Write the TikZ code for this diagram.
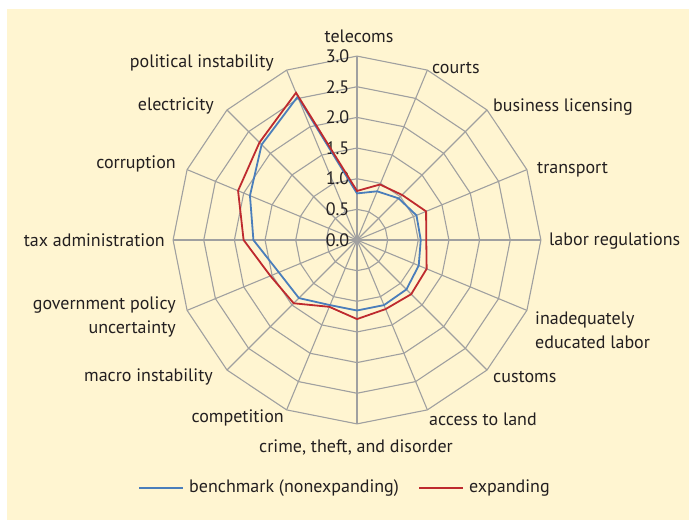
\documentclass[tikz,border=0pt]{standalone}
\usepackage{fontspec}
\setmainfont{PT Sans}
\definecolor{bg}{HTML}{FFF5D1}
\definecolor{gridc}{HTML}{A0A0A0}
\definecolor{bench}{HTML}{4A7EBB}
\definecolor{expd}{HTML}{BE2A2E}
\definecolor{txt}{HTML}{231F20}
\begin{document}
\begin{tikzpicture}[x=1pt,y=1pt,
  lbl/.style={font=\fontsize{18}{24}\selectfont, text=txt, inner sep=0pt},
  gridline/.style={draw=gridc, line width=1.1pt},
  bline/.style={draw=bench, line width=1.8pt, line join=miter},
  rline/.style={draw=expd, line width=1.8pt, line join=miter}]
\useasboundingbox (0,0) rectangle (689,520);
\fill[white] (0,0) rectangle (689,520);
\fill[bg] (7,0) rectangle (689,511);
\coordinate (c) at (357,280);
\begin{scope}[shift={(357,280)}]
  \foreach \k in {1,...,6} {
    \draw[gridline] (0:\k*30.65) \foreach \a in {1,...,15}{ -- (\a*22.5:\k*30.65)} -- cycle;
  }
  \foreach \a in {0,...,15} {
    \coordinate (s\a) at (\a*22.5:183.9);
    \draw[gridline] (0,0) -- (s\a);
  }
  \fill[gridc] (0,0) circle (3.5);
  \foreach \v [count=\i from 0] in {0.0,0.5,1.0,1.5,2.0,2.5,3.0} {
    \node[lbl, anchor=east] (t\i) at (-7.5,\i*30.65) {\v};
  }
  \foreach \v [count=\i from 0] in {0.76,0.86,0.96,1.05,1.04,1.09,1.14,1.15,1.15,1.15,1.34,1.38,1.69,1.89,2.20,2.53} {
    \coordinate (b\i) at ({90-22.5*\i}:{\v*61.3});
  }
  \foreach \v [count=\i from 0] in {0.80,0.98,1.04,1.22,1.13,1.23,1.25,1.22,1.29,1.18,1.46,1.53,1.85,2.10,2.25,2.60} {
    \coordinate (r\i) at ({90-22.5*\i}:{\v*61.3});
  }
  \draw[bline] (b0) \foreach \i in {1,...,15}{ -- (b\i)} -- cycle;
  \draw[rline] (r0) \foreach \i in {1,...,15}{ -- (r\i)} -- cycle;
\end{scope}
\node[lbl] (l0) at (359,484) {telecoms};
\node[lbl, anchor=west] (l1) at (432,452) {courts};
\node[lbl, anchor=west] (l2) at (493,413) {business licensing};
\node[lbl, anchor=west] (l3) at (537,350) {transport};
\node[lbl, anchor=west] (l4) at (549,279) {labor regulations};
\node[lbl, anchor=west, align=left] (l5) at (535,190) {inadequately\\educated labor};
\node[lbl, anchor=west] (l6) at (493,143) {customs};
\node[lbl, anchor=west] (l7) at (429,101) {access to land};
\node[lbl] (l8) at (356,73) {crime, theft, and disorder};
\node[lbl, anchor=east] (l9) at (284,102) {competition};
\node[lbl, anchor=east] (l10) at (213,143) {macro instability};
\node[lbl, anchor=east, align=right] (l11) at (176,203) {government policy\\uncertainty};
\node[lbl, anchor=east] (l12) at (165,280) {tax administration};
\node[lbl, anchor=east] (l13) at (176,356) {corruption};
\node[lbl, anchor=east] (l14) at (214,414) {electricity};
\node[lbl, anchor=east] (l15) at (274,457) {political instability};
\coordinate (lb1) at (139,32);
\coordinate (lb2) at (183,32);
\coordinate (lr1) at (419,32);
\coordinate (lr2) at (463,32);
\draw[draw=bench, line width=1.5pt] (lb1) -- (lb2);
\draw[draw=expd, line width=1.5pt] (lr1) -- (lr2);
\node[lbl, anchor=west] (lgb) at (189,32) {benchmark (nonexpanding)};
\node[lbl, anchor=west] (lgr) at (469,32) {expanding};
\end{tikzpicture}
\end{document}
